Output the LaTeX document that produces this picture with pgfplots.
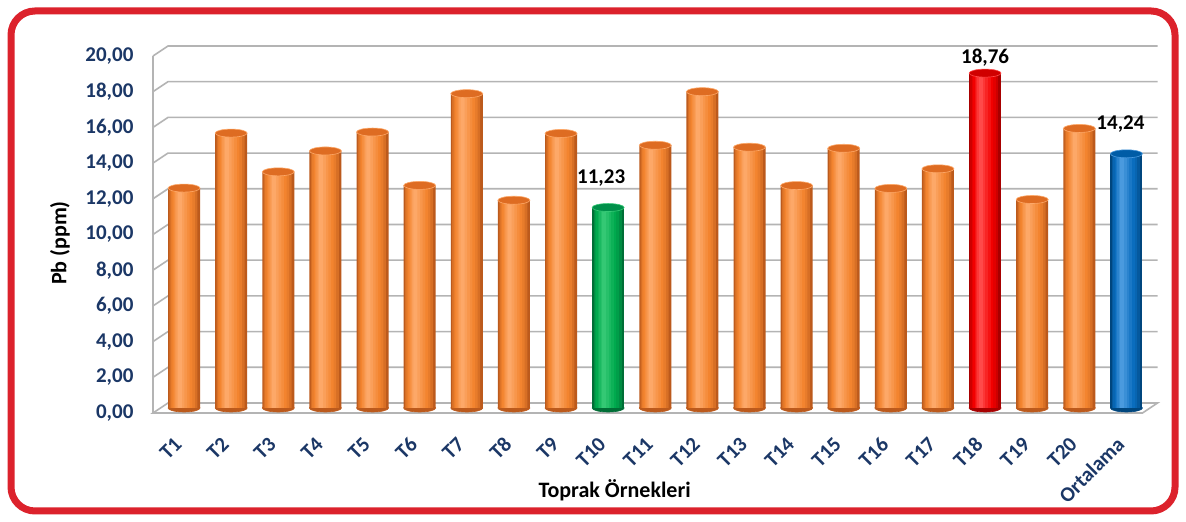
\documentclass[border=0pt]{standalone}
\usepackage{pgfplots}
\usepackage{pgfplotstable}
\pgfplotsset{compat=1.18}
\usepackage{fontspec}
\setmainfont{Carlito}
\definecolor{bordRed}{HTML}{DC222C}
\definecolor{gridc}{HTML}{B4B4B4}
\definecolor{tickblue}{HTML}{1B3766}
\definecolor{oDark}{HTML}{BC5A1C}
\definecolor{oMain}{HTML}{F3842F}
\definecolor{oLight}{HTML}{FDA868}
\definecolor{oTop}{HTML}{DE6C22}
\definecolor{gDark}{HTML}{006E36}
\definecolor{gMain}{HTML}{00AA4E}
\definecolor{gLight}{HTML}{34C874}
\definecolor{gTop}{HTML}{00904A}
\definecolor{rDark}{HTML}{A80000}
\definecolor{rMain}{HTML}{F20000}
\definecolor{rLight}{HTML}{FF4A4A}
\definecolor{rTop}{HTML}{D00000}
\definecolor{bDark}{HTML}{00467E}
\definecolor{bMain}{HTML}{0A6DBE}
\definecolor{bLight}{HTML}{4A9ADE}
\definecolor{bTop}{HTML}{005CA6}
\pgfplotstableread{
x y
0 12.32
1 15.40
2 13.23
3 14.40
4 15.46
5 12.47
6 17.61
7 11.64
8 15.38
10 14.72
11 17.72
12 14.61
13 12.46
14 14.55
15 12.30
16 13.40
18 11.68
19 15.66
}\orangedata
\pgfplotstableread{
x y
9 11.23
}\greendata
\pgfplotstableread{
x y
17 18.76
}\reddata
\pgfplotstableread{
x y
20 14.24
}\bluedata
\pgfdeclareplotmark{cylcap}{\pgfpathellipse{\pgfpointorigin}{\pgfqpoint{8pt}{0pt}}{\pgfqpoint{0pt}{2pt}}\pgfusepathqfillstroke}
\pgfplotsset{
  lay/.style n args={3}{ybar, draw=none, bar width=#1pt, bar shift=#2pt, fill=#3},
  cap/.style 2 args={only marks, mark=cylcap, mark options={fill=#1, draw=#2, line width=0.3pt}},
}
% #1 table, #2 dark, #3 main, #4 light, #5 top
\newcommand\cylinders[5]{%
  \addplot[cap={#2}{#2}] table[x=x, y expr=0] {#1};
  \addplot[lay={16}{0}{#2}] table[x=x,y=y] {#1};
  \addplot[lay={14}{-0.3}{#3!50!#2}] table[x=x,y=y] {#1};
  \addplot[lay={12}{-0.6}{#3!80!#2}] table[x=x,y=y] {#1};
  \addplot[lay={10}{-0.9}{#3}] table[x=x,y=y] {#1};
  \addplot[lay={8}{-1.2}{#4!25!#3}] table[x=x,y=y] {#1};
  \addplot[lay={6}{-1.5}{#4!50!#3}] table[x=x,y=y] {#1};
  \addplot[lay={4}{-1.8}{#4!75!#3}] table[x=x,y=y] {#1};
  \addplot[lay={2}{-2.1}{#4}] table[x=x,y=y] {#1};
  \addplot[cap={#5}{#4}] table[x=x,y=y] {#1};
}
\begin{document}
\begin{tikzpicture}
\useasboundingbox (0,0) rectangle (593pt,261pt);
\fill[white] (0,0) rectangle (593pt,261pt);
\draw[line width=3.5pt, color=bordRed, rounded corners=12pt] (5.5pt,5.5pt) rectangle (587.5pt,255.5pt);
\begin{axis}[
  at={(80.25pt,57pt)}, anchor=south west,
  scale only axis, width=494.75pt, height=178.5pt,
  xmin=-0.5, xmax=20.5, ymin=0, ymax=20,
  clip=false, clip marker paths=true,
  axis line style={draw=none}, major tick length=0pt,
  xtick={0,...,20},
  xticklabels={T1,T2,T3,T4,T5,T6,T7,T8,T9,T10,T11,T12,T13,T14,T15,T16,T17,T18,T19,T20,Ortalama},
  ytick={0,2,...,20},
  yticklabels={{0,00},{2,00},{4,00},{6,00},{8,00},{10,00},{12,00},{14,00},{16,00},{18,00},{20,00}},
  tick label style={font=\bfseries\fontsize{10.5}{12}\selectfont, text=tickblue},
  yticklabel style={anchor=east, xshift=-10pt, yshift=-2.5pt},
  xticklabel style={xshift=-0.5pt, yshift=-14pt, rotate=45, anchor=east},
  xlabel={Toprak Örnekleri}, ylabel={Pb (ppm)},
  label style={font=\bfseries\fontsize{11}{13}\selectfont, text=black},
  xlabel style={at={(axis description cs:0.459,-0.23)}, anchor=center},
  ylabel style={at={(axis description cs:-0.1016,0.462)}, anchor=center},
]
% 3D walls and grid
\pgfplotsinvokeforeach{2,4,...,20}{
  \draw[gridc, line width=0.8pt] ([xshift=-3.75pt,yshift=-2.5pt]axis cs:-0.5,#1) -- ([xshift=3.75pt,yshift=2.5pt]axis cs:-0.5,#1) -- ([xshift=3.75pt,yshift=2.5pt]axis cs:20.5,#1);
}
\draw[gridc, line width=0.8pt, fill=white] ([xshift=-3.75pt,yshift=-2.5pt]axis cs:-0.5,0) -- ([xshift=-3.75pt,yshift=-2.5pt]axis cs:20.5,0) -- ([xshift=3.75pt,yshift=2.5pt]axis cs:20.5,0) -- ([xshift=3.75pt,yshift=2.5pt]axis cs:-0.5,0) -- cycle;
\draw[gridc, line width=0.8pt] ([xshift=-3.75pt,yshift=-2.5pt]axis cs:-0.5,0) -- ([xshift=-3.75pt,yshift=-2.5pt]axis cs:-0.5,20);
\cylinders{\orangedata}{oDark}{oMain}{oLight}{oTop}
\cylinders{\greendata}{gDark}{gMain}{gLight}{gTop}
\cylinders{\reddata}{rDark}{rMain}{rLight}{rTop}
\cylinders{\bluedata}{bDark}{bMain}{bLight}{bTop}
% data labels
\node[font=\bfseries\fontsize{10.5}{12}\selectfont, xshift=-3.5pt, yshift=14.75pt] at (axis cs:9,11.23) {11,23};
\node[font=\bfseries\fontsize{10.5}{12}\selectfont, yshift=7.5pt] at (axis cs:17,18.76) {18,76};
\node[font=\bfseries\fontsize{10.5}{12}\selectfont, xshift=-3pt, yshift=15pt] at (axis cs:20,14.24) {14,24};
\end{axis}
\end{tikzpicture}
\end{document}
